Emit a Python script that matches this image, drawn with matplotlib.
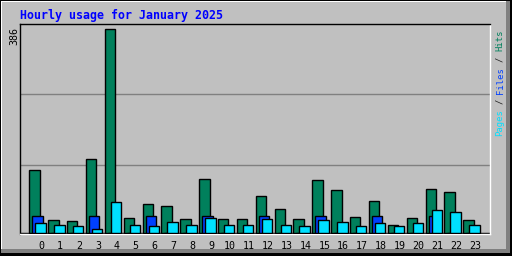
import matplotlib
matplotlib.use("Agg")
import matplotlib.pyplot as plt
from matplotlib.patches import Rectangle

# ---------------- data ----------------
hours = list(range(24))
hour_labels = [str(h) for h in hours]
hits = [119, 24, 22, 140, 386, 28, 54, 51, 26, 102, 26, 26,
        71, 45, 26, 100, 81, 30, 60, 16, 28, 83, 77, 24]
files = [33, 0, 0, 33, 0, 0, 33, 0, 0, 33, 0, 0,
         33, 0, 0, 33, 0, 0, 33, 0, 0, 33, 0, 0]
pages = [18, 15, 13, 7, 58, 15, 13, 20, 15, 28, 15, 16,
         26, 16, 13, 24, 20, 13, 18, 13, 18, 43, 39, 15]
max_label = "386"
title = "Hourly usage for January 2025"

W, H = 512, 256
BG = "#C0C0C0"
C_HITS = "#00805C"
C_FILES = "#0040FF"
C_PAGES = "#00E0FF"


def px(x0, y0, x1, y1, color):
    # rectangle in pixel coords (y from top)
    fig.patches.append(Rectangle((x0 / W, 1 - y1 / H), (x1 - x0) / W, (y1 - y0) / H,
                                 transform=fig.transFigure, facecolor=color,
                                 edgecolor="none", zorder=-10))


fig = plt.figure(figsize=(W / 100, H / 100), dpi=100, facecolor="black")

# ---------------- bevelled frame ----------------
px(1, 1, 510, 253, "#808080")
px(1, 1, 506, 249, "white")
px(2, 2, 506, 249, BG)

# ---------------- plot area ----------------
ax = fig.add_axes([20 / W, 22 / H, 470 / W, 210 / H])
ax.set_zorder(5)
ax.set_facecolor(BG)
for side in ("left", "top"):
    ax.spines[side].set_color("black")
for side in ("right", "bottom"):
    ax.spines[side].set_color("white")
for sp in ax.spines.values():
    sp.set_linewidth(1)

ax.set_xlim(-1.13, 23.78)
ax.set_ylim(-1.9, 396)

for frac in (0.33, 0.665):
    ax.plot([0, 1], [frac, frac], transform=ax.transAxes, color="#808080",
            lw=1, zorder=1)
ax.axhline(0, color="black", lw=1, zorder=2)

bw = 0.55
xs = [h for h in hours]
ax.bar([x - 0.636 for x in xs], hits, width=bw, align="edge", color=C_HITS,
       edgecolor="black", linewidth=1, zorder=3)
ax.bar([x - 0.477 for x in xs], files, width=bw, align="edge", color=C_FILES,
       edgecolor="black", linewidth=1, zorder=4)
ax.bar([x - 0.318 for x in xs], pages, width=bw, align="edge", color=C_PAGES,
       edgecolor="black", linewidth=1, zorder=5)

ax.set_xticks(xs)
ax.set_xticklabels(hour_labels, family="DejaVu Sans Mono", fontsize=7.2)
ax.tick_params(axis="x", length=0, pad=5)
ax.set_yticks([])

# ---------------- texts ----------------
fig.text(20 / W, 1 - 19 / H, title, color="#0000FF", family="DejaVu Sans Mono",
         weight="bold", fontsize=8.4, ha="left", va="baseline")
fig.text(14 / W, 1 - 27 / H, max_label, rotation=90, color="black",
         family="DejaVu Sans Mono", fontsize=7.2, ha="center", va="top")

# legend on the right, read bottom to top
char = 6.4 * 100 / 72 * 0.602
y0 = 136.5
pieces = [("Pages", 0, C_PAGES), ("/", 6, "#202020"), ("Files", 8, C_FILES),
          ("/", 14, "#202020"), ("Hits", 16, C_HITS)]
for txt, k, col in pieces:
    fig.text(500 / W, 1 - (y0 - k * char) / H, txt, rotation=90, color=col,
             family="DejaVu Sans Mono", fontsize=6.4, ha="center", va="bottom")

fig.savefig("out.png", dpi=100, facecolor=fig.get_facecolor())
